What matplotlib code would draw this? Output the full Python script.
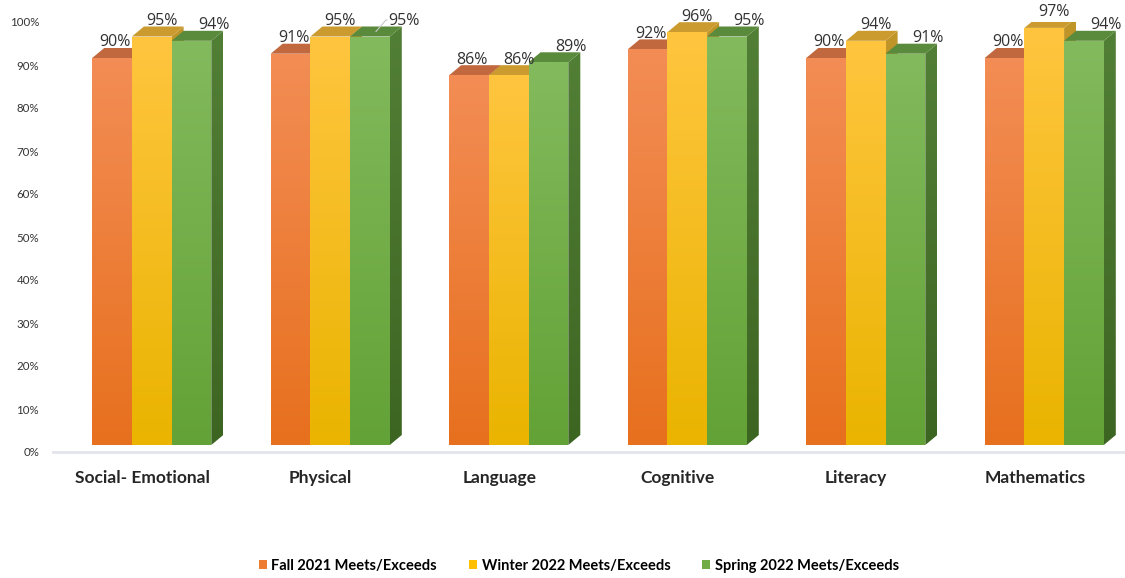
import numpy as np
import matplotlib
matplotlib.use("Agg")
import matplotlib.pyplot as plt
from matplotlib.patches import Polygon, Patch
from matplotlib.colors import LinearSegmentedColormap

plt.rcParams['font.family'] = ['Lato', 'DejaVu Sans']

# data
categories = ["Social- Emotional", "Physical", "Language", "Cognitive", "Literacy", "Mathematics"]
series = ["Fall 2021 Meets/Exceeds", "Winter 2022 Meets/Exceeds", "Spring 2022 Meets/Exceeds"]
fall = [90, 91, 86, 92, 90, 90]
winter = [95, 95, 86, 96, 94, 97]
spring = [94, 95, 89, 95, 91, 94]
yticks = list(range(0, 101, 10))

# styles: (front top, front bottom, side top, side bottom, top face, legend)
styles = [
    ("#F38D55", "#E7701E", "#B85A22", "#A04A18", "#C2683E", "#ED7D31"),
    ("#FFC53F", "#EAB400", "#C0962A", "#A88010", "#CB9B2F", "#FFC000"),
    ("#83BA5D", "#63A236", "#527F36", "#3D6522", "#5A8A3B", "#70AD47"),
]
label_dx = [3, 10, 22]          # px, data label nudge per series
leader = {(1, 2): 12}           # extra px shift with leader line

W, H = 1125, 578
fig = plt.figure(figsize=(W / 100, H / 100), dpi=100)
ax = fig.add_axes([53 / W, 126 / H, 1071 / W, 430 / H])
ax.set_xlim(-0.5, len(categories) - 0.5)
ax.set_ylim(0, 100)


def px(dx, dy):
    inv = ax.transData.inverted()
    a = inv.transform((0, 0))
    b = inv.transform((dx, dy))
    return b[0] - a[0], b[1] - a[1]


ddx, ddy = px(12, 10)       # depth of the 3d bars
fx, fy = px(9.5, 7)         # bar front plane vs floor front
bar_w = 0.2224


def grad_fill(poly, c_top, c_bot, y0, y1, z):
    patch = Polygon(poly, closed=True, transform=ax.transData, facecolor="none", edgecolor="none")
    xs = [p[0] for p in poly]
    cm = LinearSegmentedColormap.from_list("g", [c_bot, c_top])
    im = ax.imshow(np.linspace(0, 1, 200)[:, None], extent=(min(xs), max(xs), y0, y1),
                   origin="lower", cmap=cm, aspect="auto", zorder=z, interpolation="bilinear")
    im.set_clip_path(patch)


values = [fall, winter, spring]
for i, cat in enumerate(categories):
    for j, vals in enumerate(values):
        v = vals[i]
        ft, fb, st, sb, tc, _ = styles[j]
        x0 = i - 1.5 * bar_w + j * bar_w + fx
        x1 = x0 + bar_w
        base = fy
        top = fy + v
        z = 2 + j * 3
        # side
        side = [(x1, base), (x1 + ddx, base + ddy), (x1 + ddx, top + ddy), (x1, top)]
        grad_fill(side, st, sb, base, top + ddy, z)
        # top face
        ax.add_patch(Polygon([(x0, top), (x1, top), (x1 + ddx, top + ddy), (x0 + ddx, top + ddy)],
                             closed=True, facecolor=tc, edgecolor="none", zorder=z + 1))
        # front
        front = [(x0, base), (x1, base), (x1, top), (x0, top)]
        grad_fill(front, ft, fb, base, top, z + 2)

        # data label
        cx = (x0 + x1) / 2
        lx = cx + px(label_dx[j], 0)[0]
        ly = top + ddy + px(0, 1.5)[1]
        if (i, j) in leader:
            ex = px(leader[(i, j)], 0)[0]
            sx0 = cx + ddx / 2
            sy0 = top + ddy / 2
            tx = lx + ex
            ty = ly + px(0, 5)[1]
            ax.plot([sx0, sx0 + px(10, 0)[0], tx - px(17, 0)[0]], [sy0, ty, ty],
                    color="#C8C8C8", lw=0.8, zorder=20, clip_on=False)
            lx = tx
        ax.text(lx, ly, f"{v}%", ha="center", va="baseline", fontsize=11.5,
                family=["Open Sans", "DejaVu Sans"], color="#333333", zorder=21, clip_on=False)

ax.set_xlim(-0.5, len(categories) - 0.5)
ax.set_ylim(0, 100)

ax.set_yticks(yticks)
ax.set_yticklabels([f"{t}%" for t in yticks], fontsize=8.3, color="#333333")
ax.set_xticks(range(len(categories)))
ax.set_xticklabels(categories, fontsize=12.5, fontweight="bold", color="#262626")
ax.tick_params(axis="y", length=0, pad=10)
ax.tick_params(axis="x", length=0, pad=13)
for s in ["top", "right", "left"]:
    ax.spines[s].set_visible(False)
ax.spines["bottom"].set_color("#E4E4EC")
ax.spines["bottom"].set_linewidth(2)
ax.patch.set_alpha(0)

handles = [Patch(facecolor=st[5], edgecolor="none") for st in styles]
fig.legend(handles, series, loc="center", bbox_to_anchor=(579 / W, 12 / H), ncol=3,
           frameon=False, handlelength=0.55, handleheight=0.55, handletextpad=0.3,
           columnspacing=2.2, prop=dict(weight="bold", size=10.5))

fig.savefig("out.png", dpi=100)
